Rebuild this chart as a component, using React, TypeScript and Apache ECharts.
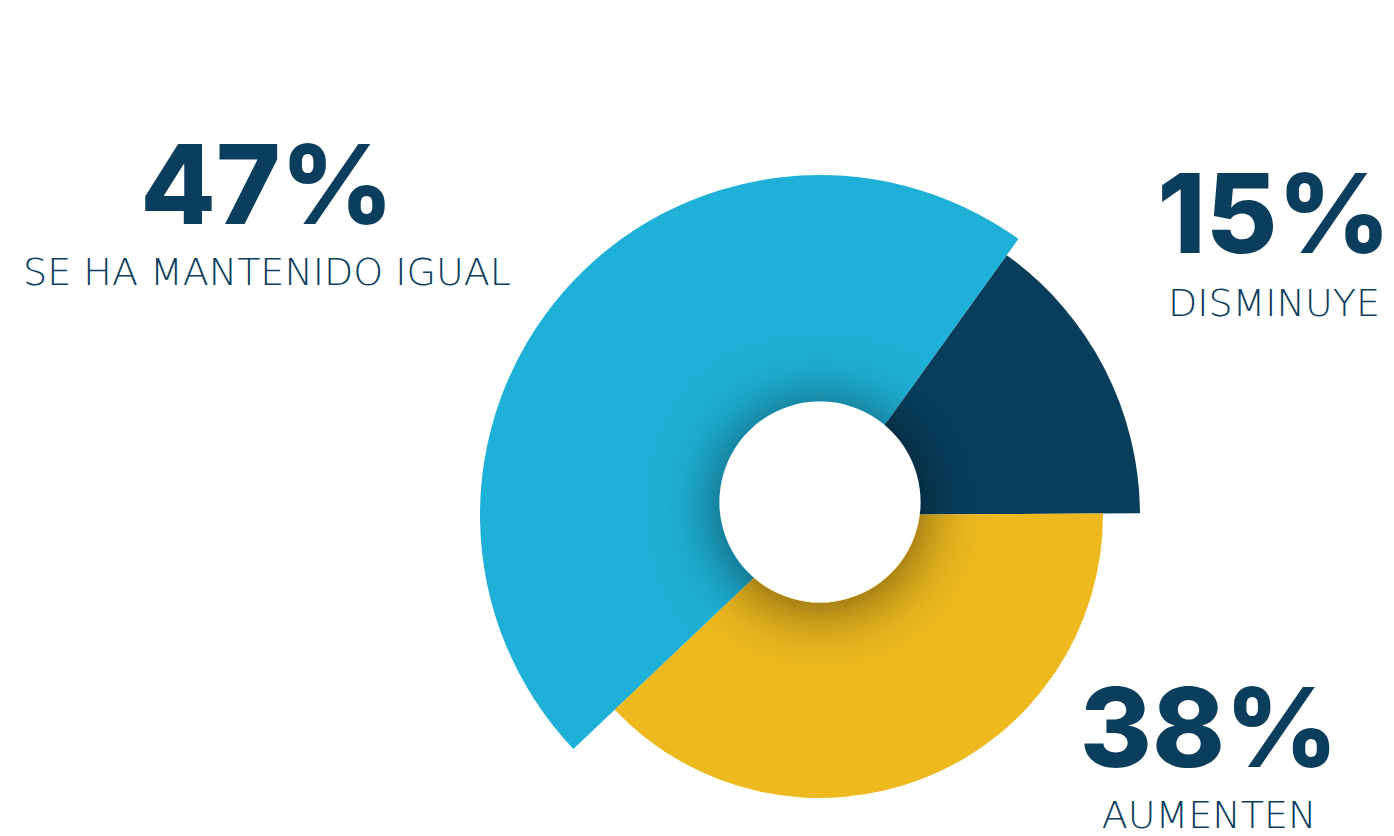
import React, { useEffect, useRef } from "react";
import * as echarts from "echarts";

const categories = ["DISMINUYE", "AUMENTEN", "SE HA MANTENIDO IGUAL"];
const values = [15, 38, 47];
const colors = ["#083e5c", "#eeb91e", "#1eb0d6"];
const radii = [320, 283, 340];

const TEXT_COLOR = "#0b3d5c";
const BIG_FONT = "Inter, 'Open Sans', sans-serif";
const SMALL_FONT = "'DejaVu Sans', 'Open Sans', sans-serif";

export default function App() {
  const ref = useRef<HTMLDivElement>(null);

  useEffect(() => {
    if (!ref.current) return;
    const chart = echarts.init(ref.current, undefined, { renderer: "svg" });

    const series = categories.map((_, idx) => ({
      type: "pie",
      center: [820, 515],
      radius: [0, radii[idx]],
      startAngle: 54.3,
      clockwise: true,
      silent: true,
      z: idx === 2 ? 1 : 2,
      label: { show: false },
      labelLine: { show: false },
      emphasis: { disabled: true },
      data: categories.map((name, j) => ({
        name,
        value: values[j],
        itemStyle: {
          color: j === idx ? colors[j] : "rgba(0,0,0,0)",
          borderWidth: 0,
        },
      })),
    }));

    const labelPos = [
      { x: 1274, yBig: 213, ySmall: 303, small: 38 },
      { x: 1209, yBig: 727, ySmall: 815, small: 38 },
      { x: 267, yBig: 184, ySmall: 272, small: 38 },
    ];

    const texts: any[] = [];
    categories.forEach((name, i) => {
      const p = labelPos[i];
      texts.push({
        type: "text",
        x: p.x,
        y: p.yBig,
        style: {
          text: `${values[i]}%`,
          fill: TEXT_COLOR,
          font: `800 110px ${BIG_FONT}`,
          textAlign: "center",
          textVerticalAlign: "middle",
        },
        z: 10,
      });
      texts.push({
        type: "text",
        x: p.x,
        y: p.ySmall,
        style: {
          text: name,
          fill: TEXT_COLOR,
          font: `200 ${p.small}px ${SMALL_FONT}`,
          textAlign: "center",
          textVerticalAlign: "middle",
        },
        z: 10,
      });
    });

    chart.setOption({
      animation: false,
      backgroundColor: "#ffffff",
      series,
      graphic: [
        {
          type: "circle",
          shape: { cx: 820, cy: 502, r: 100.5 },
          style: {
            fill: "#ffffff",
            shadowBlur: 64,
            shadowColor: "rgba(0,0,0,0.6)",
            shadowOffsetY: 5,
          },
          z: 5,
          silent: true,
        },
        ...texts,
      ],
    });

    return () => chart.dispose();
  }, []);

  return (
    <div
      ref={ref}
      style={{ position: "fixed", left: 0, top: 0, width: 1394, height: 836 }}
    />
  );
}
